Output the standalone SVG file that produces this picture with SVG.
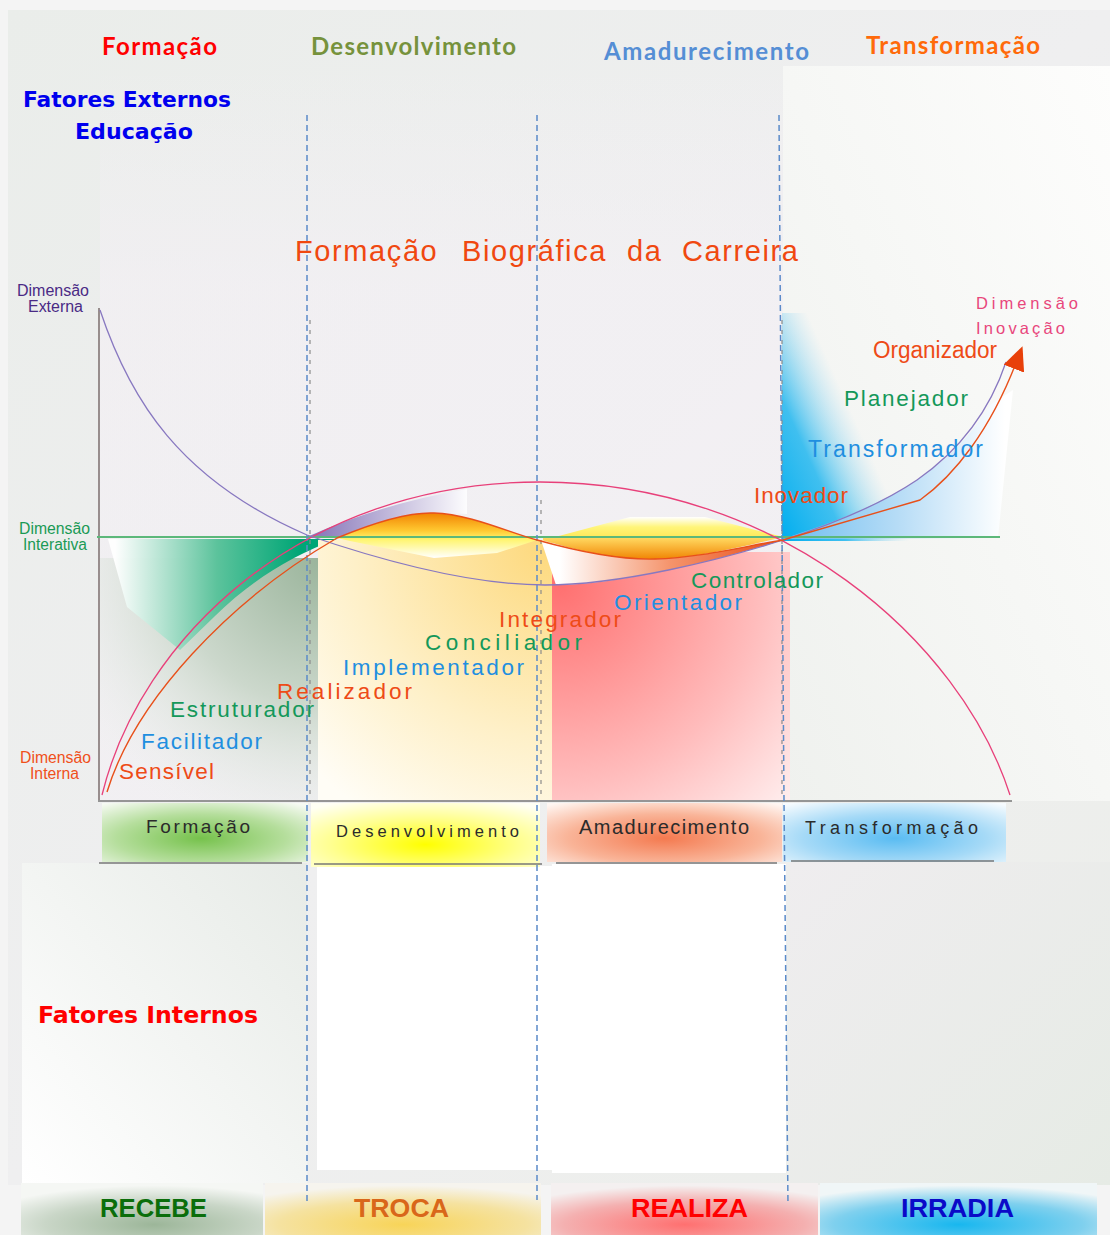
<svg xmlns="http://www.w3.org/2000/svg" width="1110" height="1235" viewBox="0 0 1110 1235">
<defs>
<style>
.dash{stroke:#5b8bc9;stroke-width:1.5;stroke-dasharray:6 4;fill:none}
.gdash{stroke:#8c8c8c;stroke-width:1.2;stroke-dasharray:4 6;fill:none}
.role{font-family:"Liberation Sans",Arial,sans-serif;font-size:22.5px}
.hdr{font-family:Lato,"Liberation Sans",sans-serif;font-weight:bold;font-size:24px}
.dim{font-family:"Liberation Sans",Arial,sans-serif;font-size:16px}
.tab{font-family:"Liberation Sans",Arial,sans-serif;font-size:19px;fill:#2b2b2b}
.band{font-family:"Liberation Sans",Arial,sans-serif;font-weight:bold;font-size:26px}
.fat{font-family:"DejaVu Sans","Liberation Sans",sans-serif;font-weight:bold;font-size:22px}
.or{fill:#ee4b17}.bl{fill:#1f8fe0}.gr{fill:#14985a}
.tabline{stroke:#777;stroke-width:1.5}
</style>
<linearGradient id="panelG" x1="0" y1="0" x2="1" y2="1"><stop offset="0" stop-color="#eaedea"/><stop offset="0.5" stop-color="#efeff0"/><stop offset="1" stop-color="#eceeea"/></linearGradient>
<linearGradient id="rightTop" x1="0" y1="1" x2="1" y2="0"><stop offset="0" stop-color="#eff1ee"/><stop offset="1" stop-color="#fdfdfc"/></linearGradient>
<linearGradient id="lavG" x1="0" y1="0" x2="0" y2="1"><stop offset="0" stop-color="#f4f0f5" stop-opacity="0"/><stop offset="0.3" stop-color="#f4f0f5" stop-opacity="0.6"/><stop offset="1" stop-color="#f4f0f5" stop-opacity="0.6"/></linearGradient>
<linearGradient id="leftLow" x1="1" y1="0" x2="0" y2="1"><stop offset="0" stop-color="#e7ebe7"/><stop offset="1" stop-color="#ffffff"/></linearGradient>
<linearGradient id="rightLow" x1="0" y1="0" x2="1" y2="1"><stop offset="0" stop-color="#efedef"/><stop offset="1" stop-color="#e6ebe5"/></linearGradient>
<radialGradient id="greyG" gradientUnits="userSpaceOnUse" cx="318" cy="560" r="290"><stop offset="0" stop-color="#9bb59c"/><stop offset="0.5" stop-color="#ccd8cc"/><stop offset="1" stop-color="#eef1ee" stop-opacity="0"/></radialGradient>
<linearGradient id="wedgeG" gradientUnits="userSpaceOnUse" x1="115" y1="0" x2="300" y2="0"><stop offset="0" stop-color="#ffffff" stop-opacity="0.95"/><stop offset="0.55" stop-color="#5cc39c"/><stop offset="1" stop-color="#00a676"/></linearGradient>
<radialGradient id="yelG" gradientUnits="userSpaceOnUse" cx="552" cy="540" r="330"><stop offset="0" stop-color="#fdd87a"/><stop offset="0.6" stop-color="#fef0c8"/><stop offset="1" stop-color="#fffdf6"/></radialGradient>
<linearGradient id="purG" gradientUnits="userSpaceOnUse" x1="320" y1="0" x2="470" y2="0"><stop offset="0" stop-color="#8c7cbc"/><stop offset="1" stop-color="#ffffff"/></linearGradient>
<linearGradient id="mound1" gradientUnits="userSpaceOnUse" x1="0" y1="512" x2="0" y2="558"><stop offset="0" stop-color="#f07f00"/><stop offset="0.4" stop-color="#ffc830"/><stop offset="0.6" stop-color="#fff570"/><stop offset="1" stop-color="#ffffff"/></linearGradient>
<linearGradient id="mound2" gradientUnits="userSpaceOnUse" x1="0" y1="517" x2="0" y2="537"><stop offset="0" stop-color="#ffffff"/><stop offset="0.5" stop-color="#fff57a"/><stop offset="1" stop-color="#ffe85a"/></linearGradient>
<linearGradient id="mound3" gradientUnits="userSpaceOnUse" x1="0" y1="538" x2="0" y2="560"><stop offset="0" stop-color="#ffd860"/><stop offset="1" stop-color="#f08200"/></linearGradient>
<linearGradient id="wedgeR" gradientUnits="userSpaceOnUse" x1="560" y1="0" x2="780" y2="0"><stop offset="0" stop-color="#ffffff"/><stop offset="0.5" stop-color="#f5946c"/><stop offset="1" stop-color="#e8501a"/></linearGradient>
<radialGradient id="redG" gradientUnits="userSpaceOnUse" cx="560" cy="585" r="330"><stop offset="0" stop-color="#ff7070"/><stop offset="0.6" stop-color="#ffbcbc"/><stop offset="1" stop-color="#fff4f4"/></radialGradient>
<linearGradient id="cyanG" gradientUnits="userSpaceOnUse" x1="782" y1="541" x2="900" y2="488"><stop offset="0" stop-color="#00aeef"/><stop offset="0.45" stop-color="#20b6ef" stop-opacity="0.85"/><stop offset="0.9" stop-color="#9ad8f3" stop-opacity="0"/></linearGradient>
<linearGradient id="lbG" gradientUnits="userSpaceOnUse" x1="790" y1="0" x2="1005" y2="0"><stop offset="0" stop-color="#72bff0"/><stop offset="0.5" stop-color="#b6dcf6"/><stop offset="1" stop-color="#ffffff"/></linearGradient>
<radialGradient id="tabF" cx="0.48" cy="0.6" r="0.75"><stop offset="0" stop-color="#76c24c"/><stop offset="0.55" stop-color="#b5de9c"/><stop offset="1" stop-color="#f6faf3"/></radialGradient>
<radialGradient id="tabD" cx="0.5" cy="0.65" r="0.75"><stop offset="0" stop-color="#ffff00"/><stop offset="0.55" stop-color="#ffff90"/><stop offset="1" stop-color="#fffff4"/></radialGradient>
<radialGradient id="tabA" cx="0.5" cy="0.6" r="0.75"><stop offset="0" stop-color="#f47a50"/><stop offset="0.55" stop-color="#f9b498"/><stop offset="1" stop-color="#fff6f2"/></radialGradient>
<radialGradient id="tabT" cx="0.5" cy="0.6" r="0.75"><stop offset="0" stop-color="#5abcf2"/><stop offset="0.55" stop-color="#a6daf7"/><stop offset="1" stop-color="#f6fbfe"/></radialGradient>
<radialGradient id="bR" cx="0.55" cy="0.8" r="0.75"><stop offset="0" stop-color="#9cb699"/><stop offset="0.6" stop-color="#c9d6c7"/><stop offset="1" stop-color="#f5f7f4"/></radialGradient>
<radialGradient id="bT" cx="0.5" cy="0.8" r="0.75"><stop offset="0" stop-color="#f8d458"/><stop offset="0.6" stop-color="#f5e2a0"/><stop offset="1" stop-color="#f6f4ee"/></radialGradient>
<radialGradient id="bZ" cx="0.5" cy="0.8" r="0.75"><stop offset="0" stop-color="#ff7070"/><stop offset="0.6" stop-color="#f4b0b0"/><stop offset="1" stop-color="#f4f0f0"/></radialGradient>
<radialGradient id="bI" cx="0.5" cy="0.8" r="0.75"><stop offset="0" stop-color="#18b7ef"/><stop offset="0.6" stop-color="#7fd0ee"/><stop offset="1" stop-color="#f0f6f7"/></radialGradient>
<marker id="arr" viewBox="0 0 24 22" refX="6" refY="11" markerWidth="24" markerHeight="22" markerUnits="userSpaceOnUse" orient="auto"><path d="M0,0 L24,11 L0,22 Z" fill="#e8400a"/></marker>
</defs>

<g id="background">
<rect width="1110" height="1235" fill="#f4f4f4"/>
<rect x="8" y="10" width="1102" height="1175" fill="url(#panelG)"/>
<rect x="783" y="66" width="327" height="735" fill="url(#rightTop)"/>
<rect x="100" y="66" width="683" height="735" fill="url(#lavG)"/>
<rect x="22" y="863" width="285" height="320" fill="url(#leftLow)"/>
<rect x="790" y="862" width="320" height="323" fill="url(#rightLow)"/>
<rect x="317" y="866" width="235" height="304" fill="#ffffff"/>
<rect x="552" y="864" width="234" height="309" fill="#ffffff"/>
</g>

<g id="chart-fills">
<rect x="100" y="558" width="218" height="242" fill="url(#greyG)"/>
<path d="M108,539 L337,539 C290,556 250,582 215,616 L180,650 L127,607 Z" fill="url(#wedgeG)"/>
<rect x="318" y="540" width="234" height="260" fill="url(#yelG)"/>
<path d="M307,537 Q380,504 467,489 L467,514 C450,513 440,512 434,513 C410,512 380,520 337,538 Z" fill="url(#purG)"/>
<path d="M337,538 C380,520 410,512 434,513 C470,514 510,533 537,540 L497,553 L434,558 L350,541 Z" fill="url(#mound1)"/>
<rect x="552" y="552" width="238" height="248" fill="url(#redG)"/>
<path d="M555,537 L630,517 L705,517 L783,537 Z" fill="url(#mound2)"/>
<path d="M543,537 L783,537 C750,545 700,558 655,559 C620,560 580,552 543,540 Z" fill="url(#mound3)"/>
<path d="M541,540 C580,552 620,560 655,559 C700,558 750,545 783,540 C720,560 620,585 556,585 Z" fill="url(#wedgeR)"/>
<rect x="782" y="313" width="218" height="228" fill="url(#cyanG)"/>
<path d="M782,539 C830,524 880,505 917,480 C950,458 975,430 990,405 L1013,390 L998,538 Z" fill="url(#lbG)"/>
</g>

<g id="phase-tabs">
<rect x="102" y="803" width="206" height="59" fill="url(#tabF)"/>
<rect x="311" y="803" width="229" height="64" fill="url(#tabD)"/>
<rect x="547" y="803" width="235" height="59" fill="url(#tabA)"/>
<rect x="783" y="803" width="223" height="59" fill="url(#tabT)"/>
<line class="tabline" x1="99" y1="863" x2="302" y2="863"/>
<line class="tabline" x1="314" y1="864" x2="542" y2="864"/>
<line class="tabline" x1="556" y1="863" x2="777" y2="863"/>
<line class="tabline" x1="791" y1="861" x2="994" y2="861"/>
<text class="tab" x="146" y="833" textLength="104">Formação</text>
<text class="tab" x="336" y="837" textLength="183" style="font-size:16.5px">Desenvolvimento</text>
<text class="tab" x="579" y="834" textLength="170" style="font-size:20px">Amadurecimento</text>
<text class="tab" x="805" y="834" textLength="173" style="font-size:18px">Transformação</text>
</g>

<g id="bottom-band">
<rect x="21" y="1183" width="242" height="52" fill="url(#bR)"/>
<rect x="265" y="1183" width="276" height="52" fill="url(#bT)"/>
<rect x="551" y="1183" width="267" height="52" fill="url(#bZ)"/>
<rect x="820" y="1183" width="277" height="52" fill="url(#bI)"/>
<text class="band" x="100" y="1217" textLength="107" lengthAdjust="spacingAndGlyphs" fill="#0b6e0b">RECEBE</text>
<text class="band" x="354" y="1217" textLength="95" lengthAdjust="spacingAndGlyphs" fill="#d9671a">TROCA</text>
<text class="band" x="631" y="1217" textLength="117" lengthAdjust="spacingAndGlyphs" fill="#ff0000">REALIZA</text>
<text class="band" x="901" y="1217" textLength="113" lengthAdjust="spacingAndGlyphs" fill="#0a0ac8">IRRADIA</text>
</g>

<g id="connectors">
<line x1="99" y1="308" x2="99" y2="800" stroke="#6a5a5a" stroke-width="1.3"/>
<line x1="98" y1="801" x2="1012" y2="801" stroke="#777" stroke-width="1.5"/>
<line x1="97" y1="537" x2="1000" y2="537" stroke="#5cb87a" stroke-width="2"/>
<path class="gdash" d="M310,320 L310,800"/>
<path class="gdash" d="M541,500 L541,800"/>
<path class="gdash" d="M782,320 L782,800"/>
<path class="dash" d="M307,115 L307,1205"/>
<path class="dash" d="M537,115 L537,1200"/>
<path class="dash" d="M779,115 L781,400 L784,800 L788,1205"/>
<path d="M102,795 C140,640 300,482 540,482 C780,482 960,640 1010,795" fill="none" stroke="#e8407a" stroke-width="1.3"/>
<path d="M100,310 C130,400 180,480 307,535 C380,560 470,585 545,585 C620,585 720,560 783,540 C830,525 880,505 917,480 C960,450 990,410 1006,362" fill="none" stroke="#8878c0" stroke-width="1.3"/>
<path d="M107,792 C135,700 230,600 337,538 C380,520 410,512 434,513 C470,514 510,533 537,540 C580,552 620,560 655,559 C700,558 750,545 783,540 L920,500 C955,475 990,430 1016,363" fill="none" stroke="#e8501a" stroke-width="1.4" marker-end="url(#arr)"/>
</g>

<g id="headers">
<text class="hdr" x="102" y="55" textLength="115" fill="#ff0000">Formação</text>
<text class="hdr" x="311" y="55" textLength="205" fill="#76923c">Desenvolvimento</text>
<text class="hdr" x="604" y="60" textLength="205" fill="#558ed5">Amadurecimento</text>
<text class="hdr" x="866" y="54" textLength="174" fill="#ff6a0a">Transformação</text>
<text class="fat" x="23" y="107" textLength="208" lengthAdjust="spacingAndGlyphs" fill="#0000ee">Fatores Externos</text>
<text class="fat" x="75" y="139" textLength="118" lengthAdjust="spacingAndGlyphs" fill="#0000ee">Educação</text>
<text class="fat" x="38" y="1023" textLength="220" lengthAdjust="spacingAndGlyphs" fill="#ff0000" style="font-size:23px">Fatores Internos</text>
<text font-family="Liberation Sans, Arial, sans-serif" font-size="29" fill="#f04810" letter-spacing="1.6" y="261"><tspan x="295">Formação </tspan><tspan x="462">Biográfica </tspan><tspan x="627">da </tspan><tspan x="682">Carreira</tspan></text>
</g>

<g id="dimension-labels">
<text class="dim" x="17" y="296" textLength="72" lengthAdjust="spacingAndGlyphs" fill="#4a2a85">Dimensão</text>
<text class="dim" x="28" y="312" textLength="55" lengthAdjust="spacingAndGlyphs" fill="#4a2a85">Externa</text>
<text class="dim" x="19" y="534" textLength="71" lengthAdjust="spacingAndGlyphs" fill="#1a9a55">Dimensão</text>
<text class="dim" x="23" y="550" textLength="64" lengthAdjust="spacingAndGlyphs" fill="#1a9a55">Interativa</text>
<text class="dim" x="20" y="763" textLength="71" lengthAdjust="spacingAndGlyphs" fill="#f0501a">Dimensão</text>
<text class="dim" x="30" y="779" textLength="49" lengthAdjust="spacingAndGlyphs" fill="#f0501a">Interna</text>
<text class="dim" x="976" y="309" textLength="102" fill="#e8467c" style="font-size:16.5px">Dimensão</text>
<text class="dim" x="976" y="334" textLength="89" fill="#e8467c" style="font-size:16.5px">Inovação</text>
</g>

<g id="roles">
<text class="role or" x="119" y="779" textLength="95">Sensível</text>
<text class="role bl" x="141" y="749" textLength="121">Facilitador</text>
<text class="role gr" x="170" y="717" textLength="144">Estruturador</text>
<text class="role or" x="277" y="699" textLength="135">Realizador</text>
<text class="role bl" x="343" y="675" textLength="181">Implementador</text>
<text class="role gr" x="425" y="650" textLength="157">Conciliador</text>
<text class="role or" x="499" y="627" textLength="122">Integrador</text>
<text class="role bl" x="614" y="610" textLength="128">Orientador</text>
<text class="role gr" x="691" y="588" textLength="132">Controlador</text>
<text class="role or" x="754" y="503" textLength="94">Inovador</text>
<text class="role bl" x="808" y="457" textLength="175" style="font-size:23px">Transformador</text>
<text class="role gr" x="844" y="406" textLength="124">Planejador</text>
<text class="role or" x="873" y="358" textLength="124" lengthAdjust="spacingAndGlyphs" style="font-size:23px">Organizador</text>
</g>
</svg>
